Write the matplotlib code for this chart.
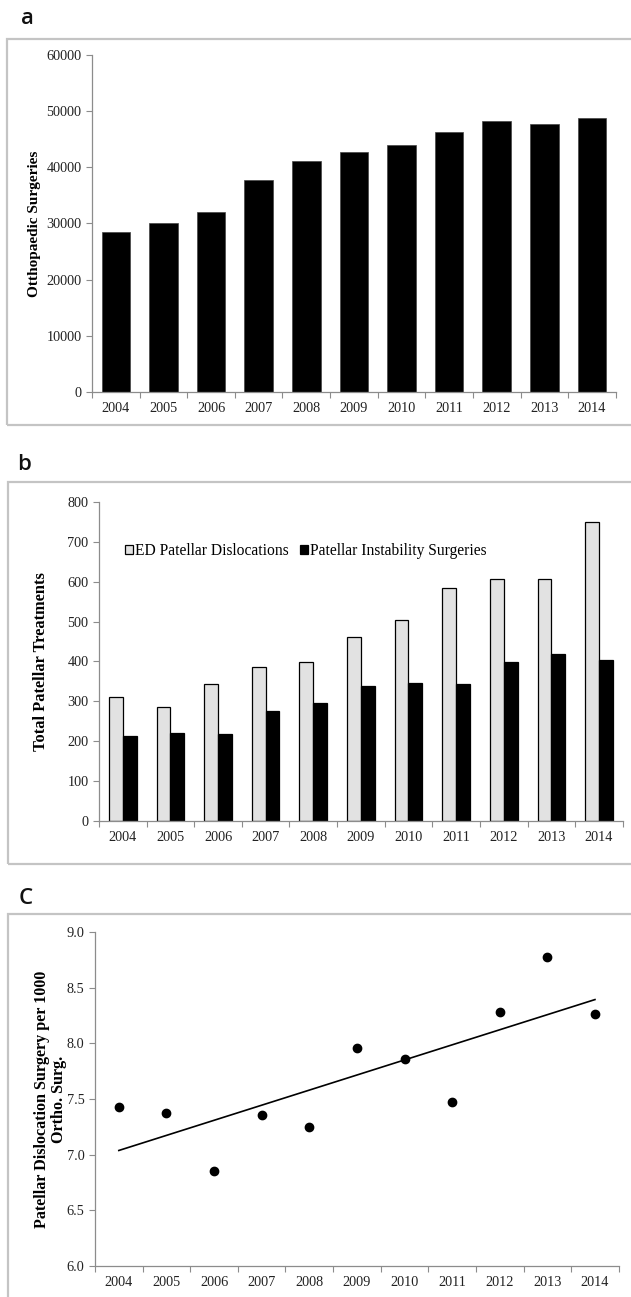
import numpy as np
import matplotlib.pyplot as plt
from matplotlib.patches import Rectangle
from matplotlib.ticker import FormatStrFormatter

years = ['2004', '2005', '2006', '2007', '2008', '2009', '2010', '2011', '2012', '2013', '2014']

# panel a: orthopaedic surgeries per year
ortho_surgeries = [28500, 30000, 32100, 37800, 41100, 42800, 44000, 46200, 48300, 47800, 48800]

# panel b: patellar treatments
ed_dislocations = [310, 286, 343, 387, 399, 461, 505, 584, 608, 608, 749]
instability_surgeries = [212, 221, 219, 277, 297, 339, 345, 343, 398, 419, 403]

# panel c: surgery rate per 1000 ortho surgeries
surgery_rate = [7.43, 7.37, 6.85, 7.36, 7.25, 7.96, 7.86, 7.47, 8.28, 8.78, 8.26]

serif = 'Liberation Serif'
spine_col = '#8c8c8c'
frame_col = '#c4c4c4'
tick_size = 10.3

fig = plt.figure(figsize=(6.31, 12.97), dpi=100)
fig.patch.set_facecolor('white')


def style_axes(ax):
    # category axis: ticks between the categories, labels centred
    n = len(years)
    x = np.arange(n)
    ax.set_xlim(-0.5, n - 0.5)
    ax.set_xticks(np.arange(n + 1) - 0.5)
    ax.set_xticklabels([])
    ax.set_xticks(x, minor=True)
    ax.set_xticklabels(years, minor=True, fontfamily=serif, fontsize=tick_size, color='#222222')
    ax.tick_params(axis='x', which='major', direction='out', length=4, color=spine_col)
    ax.tick_params(axis='x', which='minor', length=0, pad=7)
    ax.tick_params(axis='y', direction='out', length=4, color=spine_col,
                   labelsize=tick_size, labelcolor='#222222')
    for lab in ax.get_yticklabels():
        lab.set_fontfamily(serif)
    for s in ['top', 'right']:
        ax.spines[s].set_visible(False)
    for s in ['left', 'bottom']:
        ax.spines[s].set_color(spine_col)
        ax.spines[s].set_linewidth(0.9)


def panel_frame(x0, y0, x1, y1, letter, lx, ly):
    # light grey box round each panel plus its letter
    W, H = 631.0, 1297.0
    fig.patches.append(Rectangle((x0 / W, 1 - y1 / H), (x1 - x0) / W, (y1 - y0) / H,
                                 transform=fig.transFigure, fill=False,
                                 edgecolor=frame_col, linewidth=1.6))
    fig.text(lx / W, 1 - ly / H, letter, fontfamily='Open Sans', fontsize=16,
             fontweight='semibold', ha='left', va='center', color='#111111')


# ---- panel a ----
panel_frame(7, 39, 640, 425, 'a', 21, 19)
ax1 = fig.add_axes([0.1458, 0.6978, 0.830, 0.2598])
x = np.arange(len(years))
ax1.bar(x, ortho_surgeries, width=0.6, color='black', edgecolor='#444444', linewidth=0.5)
ax1.set_ylim(0, 60000)
ax1.set_yticks(np.arange(0, 60001, 10000))
style_axes(ax1)
ax1.set_ylabel('Otthopaedic Surgeries', fontfamily=serif, fontweight='bold', fontsize=11, labelpad=4)

# ---- panel b ----
panel_frame(8, 482, 640, 864, 'b', 17, 464)
ax2 = fig.add_axes([0.1569, 0.3670, 0.830, 0.2460])
bw = 0.29
ax2.bar(x - bw / 2, ed_dislocations, width=bw, color='#e2e2e2', edgecolor='black',
        linewidth=0.9, label='ED Patellar Dislocations')
ax2.bar(x + bw / 2, instability_surgeries, width=bw, color='black', edgecolor='black',
        linewidth=0.9, label='Patellar Instability Surgeries')
ax2.set_ylim(0, 800)
ax2.set_yticks(np.arange(0, 801, 100))
style_axes(ax2)
ax2.set_ylabel('Total Patellar Treatments', fontfamily=serif, fontweight='bold', fontsize=11.8, labelpad=13)
ax2.legend(loc='upper left', bbox_to_anchor=(0.035, 0.895), ncol=2, frameon=False,
           prop={'family': serif, 'size': 11.2}, handlelength=0.5, handleheight=0.5,
           handletextpad=0.15, columnspacing=0.7, borderpad=0)

# ---- panel c ----
panel_frame(8, 914, 640, 1310, 'C', 19, 898)
ax3 = fig.add_axes([0.1506, 0.0239, 0.830, 0.2575])
ax3.scatter(x, surgery_rate, s=36, color='black', zorder=3)
slope, icpt = np.polyfit(x, surgery_rate, 1)
ax3.plot(x, slope * x + icpt, color='black', linewidth=1.2)
ax3.set_ylim(6.0, 9.0)
ax3.set_yticks(np.arange(6.0, 9.01, 0.5))
ax3.yaxis.set_major_formatter(FormatStrFormatter('%.1f'))
style_axes(ax3)
ax3.set_ylabel('Patellar Dislocation Surgery per 1000\nOrtho. Surg.', fontfamily=serif,
               fontweight='bold', fontsize=11.6, labelpad=0, linespacing=1.1)

fig.savefig('out.png', dpi=100)
